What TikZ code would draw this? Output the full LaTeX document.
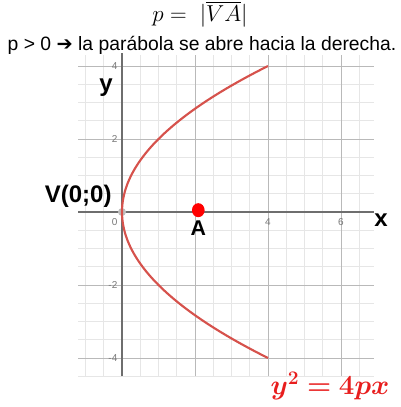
\documentclass[tikz,border=0pt]{standalone}
\usetikzlibrary{shapes.geometric}
\usepackage{amsmath}
\usepackage{bm}
\usepackage{fontspec}
\setmainfont{Liberation Sans}
\newfontfamily\djv{DejaVu Sans}
\definecolor{curvered}{RGB}{214,82,76}
\definecolor{eqred}{RGB}{232,30,30}
\definecolor{minorgrid}{RGB}{230,230,230}
\definecolor{majorgrid}{RGB}{185,185,185}
\definecolor{axisgray}{RGB}{110,110,110}
\definecolor{ticklbl}{RGB}{120,120,120}
\begin{document}
\begin{tikzpicture}[x=0.75pt,y=-0.75pt,
  ticklabel/.style={font=\fontsize{7.5}{8}\selectfont, text=ticklbl, inner sep=0pt},
  biglbl/.style={font=\fontsize{16}{18}\selectfont\bfseries, inner sep=0pt},
  axisline/.style={draw=axisgray, line width=1.4pt},
  curve/.style={draw=curvered, line width=1.6pt}]
\useasboundingbox (0,0) rectangle (400,407);
\node (title) at (200,14) {\fontsize{18}{21}\selectfont $p =\ |\overline{VA}|$};
\node (sub) at (202,45) {\fontsize{14.5}{17}\selectfont p > 0 {\djv ➔} la parábola se abre hacia la derecha.};
\begin{scope}[shift={(122,212)}, x=27.375pt, y=27.375pt]
  \draw[minorgrid, line width=0.5pt] (-1.2,-4.5) grid[step=0.5] (6.9,4.3);
  \draw[majorgrid, line width=0.6pt] (-1.2,-4.5) grid[step=2] (6.9,4.3);
  \coordinate (xl) at (-1.2,0);
  \coordinate (xr) at (6.9,0);
  \coordinate (yb) at (0,-4.5);
  \coordinate (yt) at (0,4.35);
  \draw[axisline] (xl) -- (xr);
  \draw[axisline] (yb) -- (yt);
  \node[ticklabel, anchor=east] (t4) at (-0.12,4) {4};
  \node[ticklabel, anchor=east] (t2) at (-0.12,2) {2};
  \node[ticklabel, anchor=east] (t0) at (-0.12,-0.27) {0};
  \node[ticklabel, anchor=east] (tm2) at (-0.12,-2) {-2};
  \node[ticklabel, anchor=east] (tm4) at (-0.12,-4) {-4};
  \node[ticklabel] (x4) at (4,-0.27) {4};
  \node[ticklabel] (x6) at (6,-0.27) {6};
  \fill[black!25] (0,0) circle (0.11);
  \draw[curve] plot[domain=-4:4, samples=101, smooth] ({\x*\x/4},\x);
  \node[fill=red, ellipse, inner sep=0pt, draw=none,
        minimum width=9.5pt, minimum height=10.5pt] (A) at (2.09,0.05) {};
  \node[biglbl] (Alab) at (2.09,-0.45) {A};
  \node[biglbl, font=\fontsize{18}{20}\selectfont\bfseries] (V) at (-1.2,0.42) {V(0;0)};
  \node[biglbl, font=\fontsize{18}{20}\selectfont\bfseries] (ylab) at (-0.44,3.4) {y};
  \node[biglbl, font=\fontsize{18}{20}\selectfont\bfseries] (xlab) at (7.1,-0.22) {x};
\end{scope}
\node[text=eqred, inner sep=0pt] (eq) at (330,386) {\fontsize{22}{26}\selectfont $\bm{y^2 = 4px}$};
\end{tikzpicture}
\end{document}
